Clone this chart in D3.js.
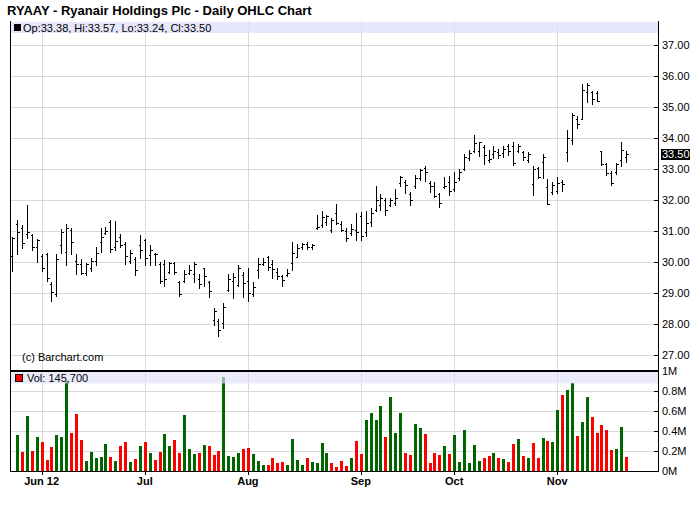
<!DOCTYPE html>
<html><head><meta charset="utf-8">
<script src="https://cdn.jsdelivr.net/npm/d3@7"></script>
<style>
body{margin:0;background:#fff}
svg{display:block}
text{font-family:"Liberation Sans",Arial,Helvetica,sans-serif}
</style>
</head><body>
<svg id="c" width="700" height="512"></svg>
<script>
const dates = [
"2012-05-23","2012-05-24","2012-05-25","2012-05-29","2012-05-30","2012-05-31",
"2012-06-01","2012-06-04","2012-06-05","2012-06-06","2012-06-07","2012-06-08","2012-06-11","2012-06-12","2012-06-13","2012-06-14","2012-06-15","2012-06-18","2012-06-19","2012-06-20","2012-06-21","2012-06-22","2012-06-25","2012-06-26","2012-06-27","2012-06-28","2012-06-29",
"2012-07-02","2012-07-03","2012-07-05","2012-07-06","2012-07-09","2012-07-10","2012-07-11","2012-07-12","2012-07-13","2012-07-16","2012-07-17","2012-07-18","2012-07-19","2012-07-20","2012-07-23","2012-07-24","2012-07-25","2012-07-26","2012-07-27","2012-07-30","2012-07-31",
"2012-08-01","2012-08-02","2012-08-03","2012-08-06","2012-08-07","2012-08-08","2012-08-09","2012-08-10","2012-08-13","2012-08-14","2012-08-15","2012-08-16","2012-08-17","2012-08-20","2012-08-21","2012-08-22","2012-08-23","2012-08-24","2012-08-27","2012-08-28","2012-08-29","2012-08-30","2012-08-31",
"2012-09-04","2012-09-05","2012-09-06","2012-09-07","2012-09-10","2012-09-11","2012-09-12","2012-09-13","2012-09-14","2012-09-17","2012-09-18","2012-09-19","2012-09-20","2012-09-21","2012-09-24","2012-09-25","2012-09-26","2012-09-27","2012-09-28",
"2012-10-01","2012-10-02","2012-10-03","2012-10-04","2012-10-05","2012-10-08","2012-10-09","2012-10-10","2012-10-11","2012-10-12","2012-10-15","2012-10-16","2012-10-17","2012-10-18","2012-10-19","2012-10-22","2012-10-23","2012-10-24","2012-10-25","2012-10-26","2012-10-31",
"2012-11-01","2012-11-02","2012-11-05","2012-11-06","2012-11-07","2012-11-08","2012-11-09","2012-11-12","2012-11-13","2012-11-14","2012-11-15","2012-11-16","2012-11-19","2012-11-20","2012-11-21"
];
const open = [
30.20,31.22,31.11,30.90,30.88,30.49,30.20,30.25,29.30,28.97,
30.55,30.34,31.05,30.05,29.95,29.65,29.80,30.05,30.64,30.95,
31.30,30.50,30.82,30.60,30.05,30.10,30.55,30.70,30.23,30.25,
29.95,29.95,29.69,29.96,29.35,29.40,29.65,29.63,29.47,29.80,
29.35,28.15,28.10,28.05,29.10,29.40,29.27,29.60,29.40,28.98,
29.75,29.95,30.18,29.95,29.70,29.55,29.60,29.97,30.18,30.50,
30.60,30.48,31.10,31.20,31.28,31.04,31.60,31.24,31.00,30.95,
31.05,31.50,30.98,31.31,31.69,31.85,32.00,31.85,31.90,32.55,
32.60,32.20,32.45,32.70,33.05,32.55,32.45,32.20,32.42,32.60,
32.35,32.70,33.00,33.35,33.60,33.60,33.70,33.30,33.50,33.55,
33.51,33.74,33.76,33.58,33.55,33.30,32.53,33.02,33.23,32.43,
32.26,32.30,32.60,33.55,33.94,34.60,34.62,35.50,35.50,35.45,
33.58,33.18,32.88,32.90,33.30,33.38];
const high = [
30.80,31.37,31.20,31.85,30.92,30.74,30.26,30.29,29.36,30.25,
31.06,31.23,31.10,30.25,30.09,29.96,30.15,30.50,31.09,31.12,
31.36,31.33,30.90,30.66,30.39,30.17,30.87,30.76,30.55,30.30,
30.01,30.06,30.01,30.01,29.39,29.76,29.90,30.01,29.63,29.80,
29.39,28.54,28.18,28.69,29.63,29.66,29.90,29.68,29.82,29.37,
30.15,30.14,30.21,30.08,29.81,29.58,29.78,30.66,30.59,30.63,
30.66,30.60,31.53,31.66,31.52,31.42,31.89,31.33,31.11,31.24,
31.58,31.61,31.64,31.74,32.44,32.20,32.06,32.06,32.37,32.77,
32.66,32.25,32.81,33.00,33.10,32.61,32.58,32.24,32.76,32.77,
32.90,33.00,33.49,33.62,34.10,33.88,33.78,33.62,33.76,33.66,
33.76,33.80,33.88,33.80,33.59,33.54,33.10,33.06,33.50,32.68,
32.58,32.75,32.65,34.27,34.81,34.70,35.74,35.79,35.53,35.52,
33.60,33.20,32.93,33.20,33.88,33.57];
const low = [
29.71,30.28,30.45,30.77,30.39,30.00,29.72,29.41,28.76,28.92,
30.30,29.92,30.25,29.61,29.61,29.59,29.72,29.91,30.32,30.90,
30.34,30.39,30.50,29.93,29.96,29.58,30.14,29.92,29.92,29.92,
29.34,29.24,29.66,29.63,28.91,29.37,29.61,29.37,29.18,29.23,
28.88,27.97,27.62,27.89,29.08,28.86,29.24,28.89,28.76,28.91,
29.48,29.91,29.76,29.48,29.47,29.22,29.55,29.76,30.16,30.43,
30.41,30.42,31.07,31.12,31.21,30.97,31.22,30.99,30.68,30.89,
30.73,30.73,30.84,31.16,31.65,31.69,31.53,31.82,31.83,32.46,
32.24,31.83,32.38,32.65,32.63,32.27,32.09,31.77,32.39,32.17,
32.29,32.66,32.97,33.28,33.56,33.43,33.18,33.23,33.36,33.35,
33.38,33.47,33.13,33.55,33.30,33.24,32.16,32.71,32.71,31.86,
32.21,32.23,32.30,33.26,33.80,34.32,34.61,35.16,35.10,35.18,
33.14,32.81,32.50,32.85,33.09,33.24];
const close = [
30.78,30.96,30.61,30.98,30.48,30.70,29.82,29.48,29.05,30.10,
30.98,31.10,30.64,29.95,29.64,29.93,30.04,30.30,30.81,31.00,
30.43,30.69,30.55,30.20,30.31,29.74,30.39,30.12,30.39,30.28,
29.40,29.47,29.96,29.70,28.97,29.61,29.74,29.95,29.30,29.55,
29.08,28.43,27.83,28.55,29.47,29.51,29.80,29.32,29.00,29.20,
29.93,30.00,29.85,29.77,29.57,29.43,29.66,30.30,30.45,30.58,
30.50,30.55,31.15,31.47,31.49,31.35,31.25,31.05,30.78,31.08,
30.98,30.85,31.25,31.60,32.00,32.08,31.67,31.99,32.06,32.74,
32.49,32.01,32.70,32.96,32.92,32.45,32.13,31.92,32.45,32.30,
32.60,32.90,33.40,33.52,33.84,33.86,33.46,33.32,33.60,33.45,
33.66,33.60,33.20,33.74,33.38,33.48,33.00,32.75,33.40,31.88,
32.50,32.56,32.51,34.00,34.75,34.47,35.55,35.70,35.25,35.20,
33.18,32.86,32.55,33.15,33.62,33.50];
const volume = [
null,363000,193000,553000,203000,343000,293000,113000,243000,363000,
343000,900000,383000,573000,313000,103000,193000,133000,143000,273000,
143000,103000,253000,293000,93000,123000,253000,293000,183000,113000,
193000,373000,253000,313000,183000,563000,223000,173000,183000,263000,
253000,163000,203000,943000,153000,143000,183000,223000,233000,173000,
103000,63000,63000,133000,83000,93000,63000,323000,113000,63000,
133000,93000,83000,283000,183000,83000,43000,103000,53000,133000,
303000,173000,513000,583000,513000,653000,343000,743000,383000,583000,
183000,163000,473000,433000,373000,83000,183000,163000,253000,173000,
363000,93000,413000,83000,263000,103000,133000,153000,183000,133000,
123000,93000,273000,323000,153000,133000,283000,133000,333000,303000,
293000,613000,763000,813000,880000,353000,493000,743000,543000,383000,
463000,413000,213000,223000,443000,145700];
const priceTicks = [27,28,29,30,31,32,33,34,35,36,37];
const volumeTicks = [0,200000,400000,600000,800000,1000000];
const volumeTickLabels = ["0M","0.2M","0.4M","0.6M","0.8M","1M"];
const monthTickDates = ["2012-06-01","2012-07-02","2012-08-01","2012-09-04","2012-10-01","2012-11-01"];
const monthTickLabels = ["Jun 12","Jul","Aug","Sep","Oct","Nov"];
const titleText = "RYAAY - Ryanair Holdings Plc - Daily OHLC Chart";
const lastIdx = dates.length - 1;

const svg = d3.select("#c");
const L = 11, R = 658, PT = 21, PB = 371, VB = 471;
const x = d3.scalePoint().domain(dates).range([12.2, 626]);
const yP = d3.scaleLinear().domain([27, 37]).range([355.3, 45]);
const yV = d3.scaleLinear().domain([0, 1000000]).range([471.3, 371.3]);
const px = v => Math.round(v) + 0.5;
const GRID = "#d9d9d9";

// title
svg.append("text").attr("x", 7).attr("y", 15).attr("font-size", 13).attr("font-weight", "bold")
  .attr("fill", "#000").text(titleText);

// gridlines
const g = svg.append("g");
g.selectAll(".hp").data(priceTicks).join("line")
  .attr("x1", L).attr("x2", R).attr("y1", d => px(yP(d))).attr("y2", d => px(yP(d)))
  .attr("stroke", GRID);
g.selectAll(".hv").data(volumeTicks.slice(1, -1)).join("line")
  .attr("x1", L).attr("x2", R).attr("y1", d => px(yV(d))).attr("y2", d => px(yV(d)))
  .attr("stroke", GRID);
g.selectAll(".vg").data(monthTickDates).join("line")
  .attr("x1", d => px(x(d))).attr("x2", d => px(x(d))).attr("y1", PT).attr("y2", VB)
  .attr("stroke", GRID);

// volume bars
const upColor = "#006600", downColor = "#ff0000";
svg.append("g").selectAll("rect").data(dates.map((d, i) => i).filter(i => volume[i] != null)).join("rect")
  .attr("x", i => Math.round(x(dates[i])) - 1).attr("width", 3)
  .attr("y", i => Math.round(yV(volume[i])))
  .attr("height", i => Math.round(yV(0)) - Math.round(yV(volume[i])))
  .attr("fill", i => (i > 0 && close[i] < close[i - 1]) ? downColor : upColor);

// OHLC bars
const ob = svg.append("g").attr("stroke", "#000").attr("stroke-width", 1).attr("shape-rendering", "crispEdges");
dates.forEach((d, i) => {
  const cx = px(x(d));
  ob.append("line").attr("x1", cx).attr("x2", cx).attr("y1", Math.round(yP(high[i]))).attr("y2", Math.round(yP(low[i])) + 1);
  ob.append("line").attr("x1", cx - 2).attr("x2", cx).attr("y1", px(yP(open[i]))).attr("y2", px(yP(open[i])));
  ob.append("line").attr("x1", cx).attr("x2", cx + 2.5).attr("y1", px(yP(close[i]))).attr("y2", px(yP(close[i])));
});

// legend bands
const band = "#e1e1fa";
svg.append("rect").attr("x", L).attr("y", 22).attr("width", R - L).attr("height", 11).attr("fill", band).attr("opacity", 0.8);
svg.append("rect").attr("x", 14).attr("y", 24).attr("width", 7).attr("height", 7).attr("fill", "#000");
svg.append("text").attr("x", 23).attr("y", 31.5).attr("font-size", 11)
  .text(`Op:${open[lastIdx].toFixed(2)}, Hi:${high[lastIdx].toFixed(2)}, Lo:${low[lastIdx].toFixed(2)}, Cl:${close[lastIdx].toFixed(2)}`);

svg.append("rect").attr("x", L).attr("y", 372).attr("width", R - L).attr("height", 11.5).attr("fill", band).attr("opacity", 0.65);
svg.append("rect").attr("x", 15.5).attr("y", 374.5).attr("width", 7).attr("height", 7).attr("fill", "#ff0000").attr("stroke", "#000");
svg.append("text").attr("x", 27).attr("y", 382).attr("font-size", 11)
  .text("Vol: " + d3.format(",")(volume[lastIdx]));

svg.append("text").attr("x", 22).attr("y", 361).attr("font-size", 11).text("(c) Barchart.com");

// frame
const fr = svg.append("g").attr("stroke", "#000").attr("shape-rendering", "crispEdges");
fr.append("line").attr("x1", 10.5).attr("x2", 10.5).attr("y1", PT).attr("y2", VB + 0.5);
fr.append("line").attr("x1", R + 0.5).attr("x2", R + 0.5).attr("y1", PT).attr("y2", VB + 0.5);
fr.append("line").attr("x1", 10).attr("x2", R + 1).attr("y1", 371).attr("y2", 371).attr("stroke-width", 2);
fr.append("line").attr("x1", 10).attr("x2", R + 1).attr("y1", VB + 0.5).attr("y2", VB + 0.5);

// right price axis
const ra = svg.append("g");
ra.selectAll("line").data(priceTicks).join("line")
  .attr("x1", R - 4).attr("x2", R).attr("y1", d => px(yP(d))).attr("y2", d => px(yP(d)))
  .attr("stroke", "#000").attr("shape-rendering", "crispEdges");
ra.selectAll("text").data(priceTicks).join("text")
  .attr("x", 662).attr("y", d => yP(d) + 4).attr("font-size", 11).text(d => d3.format(".2f")(d));
// current price marker
const cy = yP(close[lastIdx]);
svg.append("rect").attr("x", 661).attr("y", Math.round(cy) - 5).attr("width", 29).attr("height", 11).attr("fill", "#000");
svg.append("text").attr("x", 662).attr("y", cy + 4).attr("font-size", 11).attr("fill", "#fff").text(d3.format(".2f")(close[lastIdx]));

// right volume axis
const va = svg.append("g");
va.selectAll("line").data(volumeTicks).join("line")
  .attr("x1", R - 4).attr("x2", R).attr("y1", d => px(yV(d))).attr("y2", d => px(yV(d)))
  .attr("stroke", "#000").attr("shape-rendering", "crispEdges");
va.selectAll("text").data(volumeTicks).join("text")
  .attr("x", 662).attr("y", (d, i) => yV(d) + 4).attr("font-size", 11).text((d, i) => volumeTickLabels[i]);

// bottom month axis
const ba = svg.append("g");
ba.selectAll("line").data(monthTickDates).join("line")
  .attr("x1", d => px(x(d))).attr("x2", d => px(x(d))).attr("y1", VB).attr("y2", VB + 4)
  .attr("stroke", "#000").attr("shape-rendering", "crispEdges");
ba.selectAll("text").data(monthTickDates).join("text")
  .attr("x", d => x(d)).attr("y", 485).attr("text-anchor", "middle").attr("font-size", 11).attr("font-weight", "bold")
  .text((d, i) => monthTickLabels[i]);
</script>
</body></html>
